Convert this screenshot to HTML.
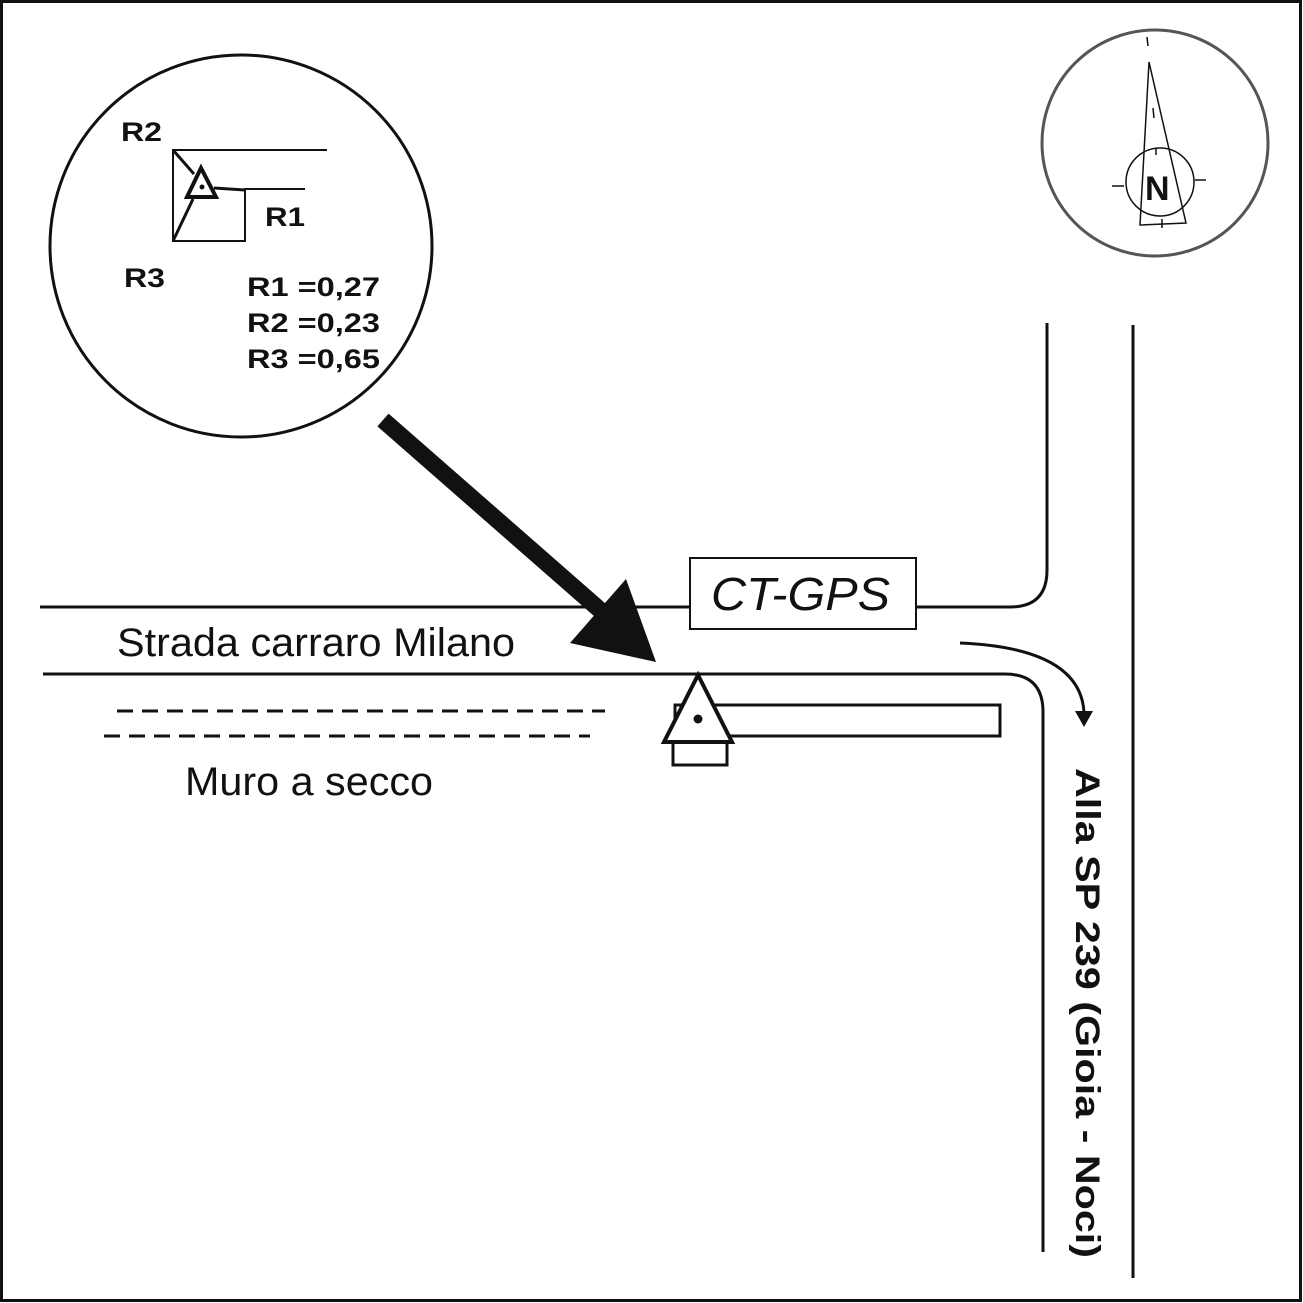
<!DOCTYPE html>
<html><head><meta charset="utf-8"><style>html,body{margin:0;padding:0;background:#fff}svg{display:block}</style></head>
<body>
<svg width="1303" height="1303" viewBox="0 0 1303 1303" xmlns="http://www.w3.org/2000/svg" font-family="Liberation Sans, sans-serif">
<rect x="1.5" y="1.5" width="1299" height="1299" fill="none" stroke="#111" stroke-width="3"/>
<!-- inset -->
<circle cx="241" cy="246" r="191" fill="none" stroke="#111" stroke-width="3"/>
<g stroke="#111" fill="none">
<polyline points="327,150 173,150 173,241 245,241 245,189 305,189" stroke-width="2"/>
<line x1="173" y1="150" x2="194" y2="174" stroke-width="3"/>
<line x1="193" y1="199" x2="173" y2="241" stroke-width="3"/>
<line x1="214" y1="188" x2="245" y2="190" stroke-width="3"/>
<polygon points="201,168 187,197 216,197" stroke-width="4"/>
</g>
<circle cx="202" cy="187" r="2.5" fill="#111"/>
<g font-weight="bold" font-size="27" fill="#111">
<text x="121" y="141" textLength="41" lengthAdjust="spacingAndGlyphs">R2</text>
<text x="265" y="226" textLength="40" lengthAdjust="spacingAndGlyphs">R1</text>
<text x="124" y="287" textLength="41" lengthAdjust="spacingAndGlyphs">R3</text>
<text x="247" y="296" textLength="133" lengthAdjust="spacingAndGlyphs">R1 =0,27</text>
<text x="247" y="332" textLength="133" lengthAdjust="spacingAndGlyphs">R2 =0,23</text>
<text x="247" y="368" textLength="133" lengthAdjust="spacingAndGlyphs">R3 =0,65</text>
</g>
<!-- compass -->
<circle cx="1155" cy="143" r="113" fill="none" stroke="#555" stroke-width="3"/>
<g stroke="#111" fill="none" stroke-width="1.5">
<line x1="1147" y1="37" x2="1148" y2="46"/>
<polygon points="1149,62 1140,225 1186,223"/>
<line x1="1153" y1="108" x2="1154" y2="118"/>
<circle cx="1160" cy="182" r="34"/>
<line x1="1112" y1="186" x2="1124" y2="186"/>
<line x1="1195" y1="180" x2="1206" y2="180"/>
<line x1="1156" y1="148" x2="1156" y2="155"/>
<line x1="1162" y1="219" x2="1162" y2="228"/>
</g>
<text x="1145" y="200" font-weight="bold" font-size="34" fill="#111">N</text>
<!-- roads -->
<g stroke="#111" fill="none" stroke-width="3">
<line x1="40" y1="607" x2="690" y2="607"/>
<path d="M916 607 H1010 Q1047 607 1047 570 V323"/>
<path d="M43 674 H1005 Q1043 674 1043 712 V1252"/>
<line x1="1133" y1="325" x2="1133" y2="1278"/>
<rect x="690" y="558" width="226" height="71" stroke-width="2"/>
<path d="M960 643 Q1080 648 1084 712"/>
<line x1="117" y1="711" x2="605" y2="711" stroke-dasharray="16,9"/>
<line x1="104" y1="736" x2="590" y2="736" stroke-dasharray="16,9"/>
<rect x="675" y="705" width="325" height="31"/>
<rect x="673" y="742" width="54" height="23"/>
</g>
<polygon points="1075,711 1093,711 1084,727" fill="#111"/>
<polygon points="698,675 664,742 732,742" fill="#fff" stroke="#111" stroke-width="4"/>
<circle cx="698" cy="719" r="4.5" fill="#111"/>
<!-- big arrow -->
<line x1="383" y1="420" x2="600" y2="610" stroke="#111" stroke-width="17"/>
<polygon points="626,579 570,643 656,662" fill="#111"/>
<!-- texts -->
<text x="711" y="610" font-size="46" font-style="italic" fill="#111" textLength="179" lengthAdjust="spacingAndGlyphs">CT-GPS</text>
<text x="117" y="656" font-size="40" fill="#111" textLength="398" lengthAdjust="spacingAndGlyphs">Strada carraro Milano</text>
<text x="185" y="795" font-size="40" fill="#111" textLength="248" lengthAdjust="spacingAndGlyphs">Muro a secco</text>
<text transform="translate(1076,768) rotate(90)" font-size="34" font-weight="bold" fill="#111" textLength="490" lengthAdjust="spacingAndGlyphs">Alla SP 239 (Gioia - Noci)</text>
</svg>
</body></html>
